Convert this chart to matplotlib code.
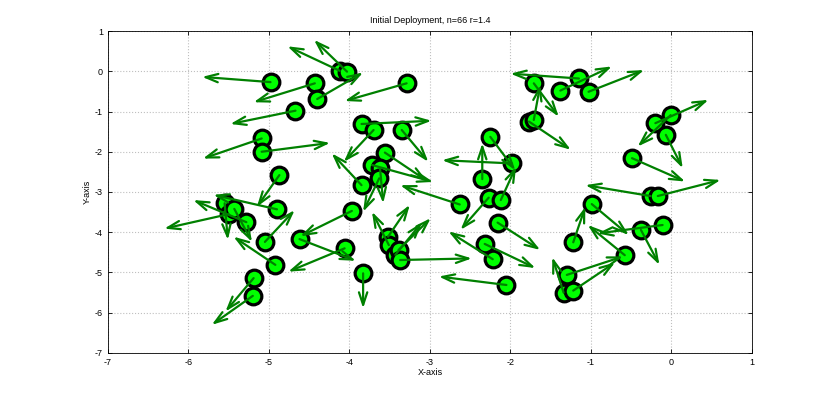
import matplotlib
matplotlib.use("Agg")
import matplotlib.pyplot as plt
import numpy as np

# node positions
node_x = [-4.98, -4.43, -4.40, -4.12, -4.03, -4.67, -5.09, -5.09, -4.87, -3.29,
          -3.85, -3.70, -3.35, -3.56, -3.72, -3.62, -3.63, -3.85, -5.55, -5.50,
          -5.43, -5.28, -4.90, -5.05, -4.92, -5.19, -5.20, -4.62, -3.97, -4.06,
          -3.83, -3.52, -3.51, -3.43, -3.39, -3.37, -2.25, -1.98, -2.35, -2.27,
          -2.12, -2.63, -2.16, -2.32, -2.22, -2.05, -1.71, -1.15, -1.38, -1.03,
          -1.77, -1.71, -0.20, -0.01, -0.07, -0.49, -0.99, -1.22, -0.58, -0.38,
          -0.11, -1.30, -1.34, -1.22, -0.26, -0.17]
node_y = [-0.27, -0.30, -0.69, 0.01, -0.01, -0.98, -1.67, -2.00, -2.58, -0.30,
          -1.31, -1.46, -1.46, -2.02, -2.33, -2.41, -2.66, -2.83, -3.28, -3.55,
          -3.42, -3.75, -3.43, -4.24, -4.81, -5.14, -5.58, -4.17, -3.47, -4.40,
          -5.02, -4.11, -4.32, -4.56, -4.44, -4.69, -1.63, -2.29, -2.68, -3.14,
          -3.20, -3.31, -3.76, -4.29, -4.67, -5.31, -0.30, -0.18, -0.48, -0.51,
          -1.25, -1.21, -1.29, -1.09, -1.58, -2.16, -3.30, -4.25, -4.57, -3.94,
          -3.82, -5.06, -5.50, -5.45, -3.10, -3.10]

# heading vectors drawn from each node
head_u = [-0.85, -0.76, 0.57, -0.65, -0.41, -0.81, -0.73, 0.85, -0.28, -0.77,
          0.87, -0.37, 0.33, 0.52, 0.76, 0.04, -0.20, -0.37, 0.04, -0.80,
          0.22, -0.66, -0.79, 0.37, -0.52, -0.35, -0.51, 0.70, -0.64, -0.70,
          0.00, 0.27, -0.21, 0.33, 0.40, 0.89, 0.31, -0.87, 0.00, -0.35,
          0.19, -0.74, 0.53, 0.63, -0.55, -0.84, 0.31, -0.85, 0.64, 0.69,
          0.52, 0.08, 0.66, -0.41, 0.21, 0.66, 0.46, 0.15, -0.46, 0.23,
          -0.81, 0.70, -0.14, 0.52, -0.81, 0.78]
head_v = [0.13, -0.47, 0.66, 0.61, 0.79, -0.33, -0.50, 0.22, -0.79, -0.44,
          0.08, -0.79, -0.79, -0.70, -0.42, -0.87, -0.83, 0.79, -0.91, -0.36,
          -0.82, 0.55, 0.36, 0.79, 0.70, -0.83, -0.72, -0.54, -0.63, -0.58,
          -0.87, 0.79, 0.83, 0.80, 0.79, 0.04, -0.83, 0.08, 0.89, -0.80,
          0.83, 0.48, -0.68, -0.60, 0.69, 0.21, -0.83, 0.12, 0.60, 0.54,
          -0.70, 0.87, 0.58, -0.78, -0.83, -0.58, -0.77, 0.88, 0.75, -0.87,
          -0.21, 0.46, 0.88, 0.70, 0.27, 0.40]

x_ticks = [-7, -6, -5, -4, -3, -2, -1, 0, 1]
y_ticks = [-7, -6, -5, -4, -3, -2, -1, 0, 1]

plt.rcParams['font.family'] = ['Liberation Sans', 'DejaVu Sans']
plt.rcParams['axes.unicode_minus'] = False

fig = plt.figure(figsize=(8.3, 3.99), dpi=100)
ax = fig.add_axes([0.130, 0.1153, 0.776, 0.807])

ax.plot(node_x, node_y, 'o', ms=12, mfc=(0, 1, 0), mec='k', mew=2.3, zorder=3)

for x0, y0, u, v in zip(node_x, node_y, head_u, head_v):
    ax.annotate('', xy=(x0 + u, y0 + v), xytext=(x0, y0),
                arrowprops=dict(arrowstyle='->,head_length=0.9,head_width=0.3',
                                color=(0, 0.5, 0), lw=1.6, shrinkA=0, shrinkB=0,
                                mutation_scale=10),
                zorder=4)

ax.set_xlim(-7, 1)
ax.set_ylim(-7, 1)
ax.set_xticks(x_ticks)
ax.set_yticks(y_ticks)
ax.tick_params(direction='in', labelsize=6.5, top=True, right=True, length=3, width=0.6)
ax.grid(True, linestyle=':', color=(0.75, 0.75, 0.75), lw=0.8)
for s in ax.spines.values():
    s.set_linewidth(0.6)

ax.set_title('Initial Deployment, n=66 r=1.4', fontsize=6.5)
ax.set_xlabel('X-axis', fontsize=6.5, labelpad=1)
ax.set_ylabel('Y-axis', fontsize=6.5, labelpad=2)

fig.savefig('out.png', dpi=100)
